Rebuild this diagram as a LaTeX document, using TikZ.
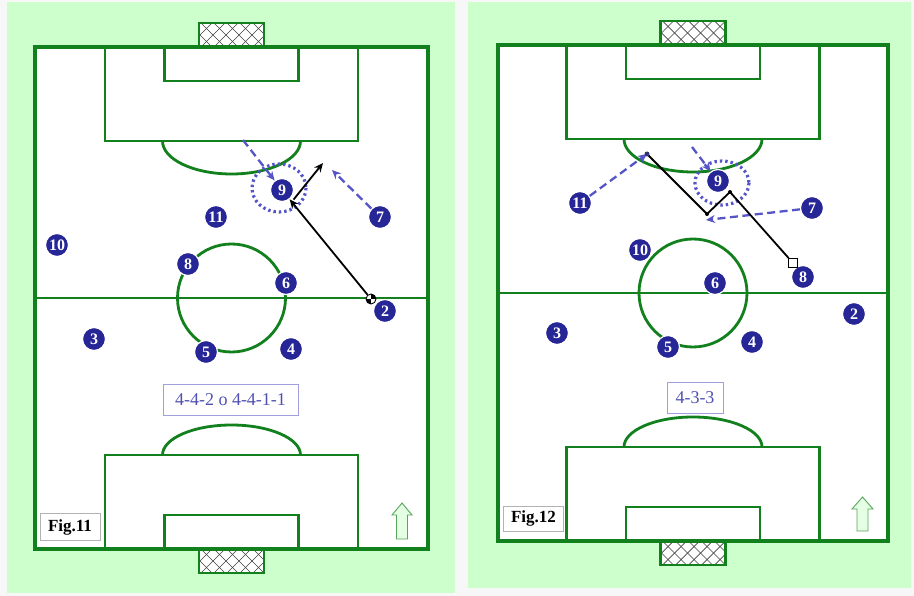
\documentclass[tikz,border=0pt]{standalone}
\usepackage{fontspec}
\setmainfont{Liberation Serif}
\usetikzlibrary{arrows.meta,positioning}

\tikzset{
    player/.style={circle, fill=playerColour, draw=white, line width=1.2pt,
        minimum size=23pt, inner sep=0pt, text=white,
        font=\fontsize{16}{16}\selectfont\bfseries},
    pitchLine/.style={draw=lineColour, line width=2.8pt},
    runLine/.style={runColour, line width=2.3pt, dash pattern=on 8pt off 4.5pt,
        -{Stealth[length=9pt,width=8pt]}},
    passLine/.style={black, line width=1.8pt, -{Stealth[length=9pt,width=8pt]}},
    markRing/.style={runColour, line width=3.2pt, dash pattern=on 2.4pt off 3pt},
    ballMark/.style={circle, draw=black, fill=white, line width=0.9pt,
        minimum size=10pt, inner sep=0pt,
        path picture={\fill[black] (path picture bounding box.center) rectangle (path picture bounding box.north east);
                      \fill[black] (path picture bounding box.center) rectangle (path picture bounding box.south west);}},
    formationBox/.style={draw=boxColour, fill=white, text=textColour,
        font=\fontsize{18}{18}\selectfont, inner sep=0pt, minimum height=31pt},
    figBox/.style={draw=gray!60, fill=white, font=\fontsize{17}{17}\selectfont\bfseries,
        inner sep=0pt, minimum height=27pt, minimum width=60pt},
    upArrow/.style={fill=arrowFill, draw=gray!70!green, line width=0.9pt}
}

\begin{document}
\begin{tikzpicture}[x=1pt, y=-1pt]
    \definecolor{panelColour}{RGB}{204,255,204}
    \definecolor{lineColour}{RGB}{18,128,28}
    \definecolor{playerColour}{RGB}{38,38,150}
    \definecolor{runColour}{RGB}{85,85,200}
    \definecolor{textColour}{RGB}{80,80,180}
    \definecolor{boxColour}{RGB}{160,160,225}
    \definecolor{arrowFill}{RGB}{228,255,228}

    \useasboundingbox (0,0) rectangle (914,596);

    % Backgrounds
    \fill[gray!6] (0,0) rectangle (914,596);
    \fill[panelColour] (7,2) rectangle (455,593);
    \fill[panelColour] (468,2) rectangle (911,588);

    % Draw pitches (left x, top y, width, height)
    \foreach \ox/\oy/\pw/\ph in {35/47/393/502, 498/45/390/496} {
        \begin{scope}[shift={(\ox,\oy)}]
            \pgfmathsetmacro{\mx}{\pw/2}
            \pgfmathsetmacro{\my}{\ph/2}
            % Goals with net
            \foreach \gy in {-24,\ph} {
                \begin{scope}
                    \clip (\mx-32.5,\gy) rectangle (\mx+32.5,\gy+24);
                    \fill[white] (\mx-32.5,\gy) rectangle (\mx+32.5,\gy+24);
                    \foreach \k in {0,...,8} {
                        \draw[black!75, line width=0.7pt] (\mx-56.5+\k*13,\gy) -- ++(24,24);
                        \draw[black!75, line width=0.7pt] (\mx-56.5+\k*13,\gy+24) -- ++(24,-24);
                    }
                \end{scope}
                \draw[pitchLine, line width=2.4pt] (\mx-32.5,\gy) rectangle (\mx+32.5,\gy+24);
            }
            % Field, halfway line, centre circle
            \draw[pitchLine, line width=3.6pt, fill=white] (0,0) rectangle (\pw,\ph);
            \draw[pitchLine] (0,\my) -- (\pw,\my);
            \draw[pitchLine] (\mx,\my) circle (54);
            % Top area
            \draw[pitchLine] (\mx-126.5,0) rectangle (\mx+126.5,94);
            \draw[pitchLine] (\mx-67,0) rectangle (\mx+67,34);
            \draw[pitchLine] (\mx-69,94) arc[start angle=180, end angle=0, x radius=69, y radius=33];
            % Bottom area
            \draw[pitchLine] (\mx-126.5,\ph) rectangle (\mx+126.5,\ph-94);
            \draw[pitchLine] (\mx-67,\ph) rectangle (\mx+67,\ph-34);
            \draw[pitchLine] (\mx-69,\ph-94) arc[start angle=180, end angle=360, x radius=69, y radius=30];
        \end{scope}
    }

    % Fig.11 movements
    \draw[markRing] (279,188) ellipse[x radius=27, y radius=24];
    \coordinate (lrunStart) at (243,140);
    \coordinate (lrunEnd) at (332,170);
    \coordinate (lshot) at (323,163);

    % Fig.11 players
    \node[player] (l9) at (282,190) {9};
    \node[player] (l11) at (216,217) {11};
    \node[player] (l7) at (380,217) {7};
    \node[player] (l10) at (57,245) {10};
    \node[player] (l8) at (188,264) {8};
    \node[player] (l6) at (286,283) {6};
    \node[player] (l2) at (385,311) {2};
    \node[player] (l3) at (94,339) {3};
    \node[player] (l5) at (206,352) {5};
    \node[player] (l4) at (291,349) {4};
    \node[ballMark] (lball) at (371,299) {};

    \draw[runLine] (lrunStart) -- (l9);
    \draw[runLine] (l7) -- (lrunEnd);
    \draw[passLine] (lball) -- (l9);
    \draw[passLine] ([xshift=3pt,yshift=-1pt]l9.south east) -- (lshot);

    % Fig.12 movements
    \draw[markRing] (722,183) ellipse[x radius=27, y radius=22];
    \coordinate (rreceive) at (647,154);
    \coordinate (rturnA) at (730,192);
    \coordinate (rturnB) at (707,214);
    \coordinate (rrunStart) at (692,147);
    \coordinate (r7end) at (706,220);

    % Fig.12 players
    \node[player] (r9) at (718,181) {9};
    \node[player] (r11) at (580,203) {11};
    \node[player] (r7) at (812,208) {7};
    \node[player] (r10) at (640,250) {10};
    \node[player] (r6) at (715,283) {6};
    \node[player] (r8) at (803,277) {8};
    \node[player] (r2) at (854,314) {2};
    \node[player] (r3) at (557,333) {3};
    \node[player] (r5) at (668,347) {5};
    \node[player] (r4) at (752,342) {4};

    \draw[runLine] (r11) -- (rreceive);
    \draw[runLine] (rrunStart) -- (r9);
    \draw[runLine] (r7) -- (r7end);
    \node[draw=black, fill=white, line width=0.9pt, minimum size=9pt, inner sep=0pt] (rball) at (793,263) {};
    \draw[black, line width=1.8pt] (rball) -- (rturnA) -- (rturnB) -- (rreceive);
    \fill (rturnA) circle (2);
    \fill (rturnB) circle (2);
    \fill[runColour!60!black] (rreceive) circle (2.5);

    % Formation and figure labels
    \node[formationBox, minimum width=135pt] (lform) at (230.5,400) {4-4-2 o 4-4-1-1};
    \node[formationBox, minimum width=56pt] (rform) at (695,398) {4-3-3};
    \node[figBox] (lfig) at (70,527) {Fig.11};
    \node[figBox, minimum height=25pt] (rfig) at (533.5,518.5) {Fig.12};

    % Attack direction arrows
    \draw[upArrow] (392,515) -- (402,503) -- (412,515) -- (407.5,515) -- (407.5,539)
        -- (396.5,539) -- (396.5,515) -- cycle;
    \draw[upArrow] (852,509) -- (862.5,497) -- (873,509) -- (868,509) -- (868,531)
        -- (857,531) -- (857,509) -- cycle;
\end{tikzpicture}
\end{document}
